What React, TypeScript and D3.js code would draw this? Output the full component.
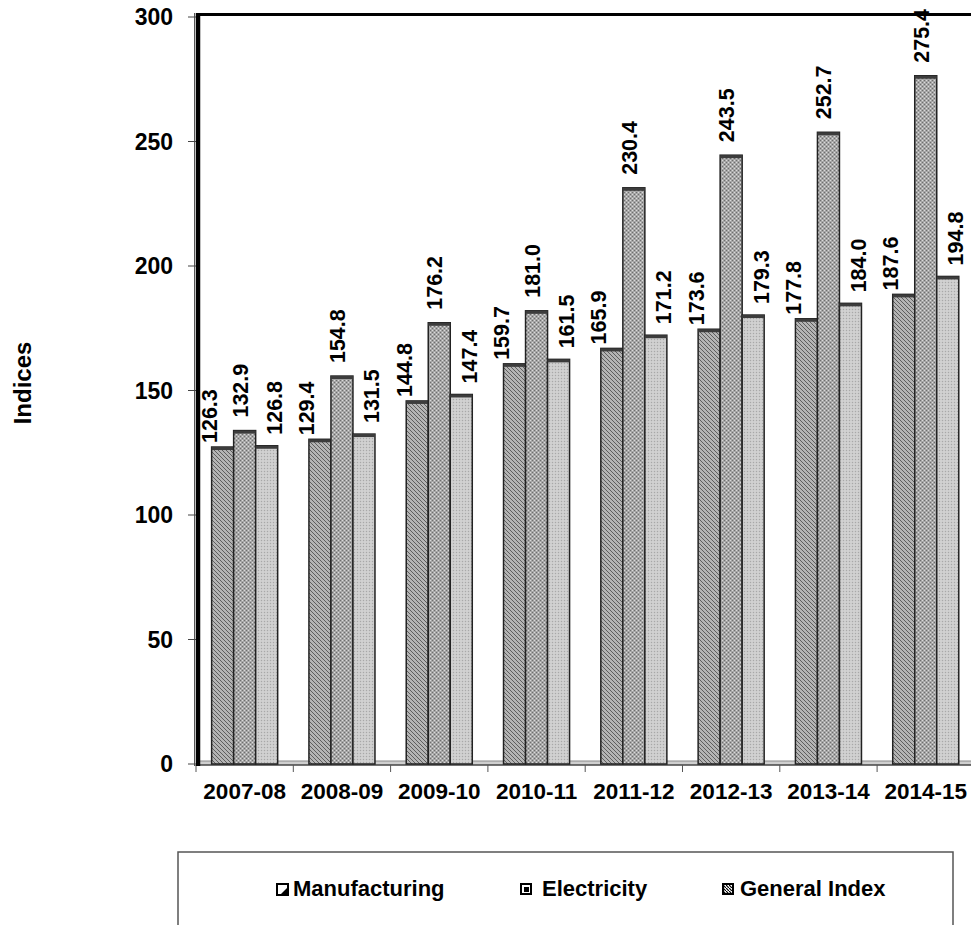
import React from 'react';
import * as d3 from 'd3';

const categories = ['2007-08', '2008-09', '2009-10', '2010-11', '2011-12', '2012-13', '2013-14', '2014-15'];
const seriesNames = ['Manufacturing', 'Electricity', 'General Index'];
const manufacturing = [126.3, 129.4, 144.8, 159.7, 165.9, 173.6, 177.8, 187.6];
const electricity = [132.9, 154.8, 176.2, 181.0, 230.4, 243.5, 252.7, 275.4];
const generalIndex = [126.8, 131.5, 147.4, 161.5, 171.2, 179.3, 184.0, 194.8];
const yTicks = [0, 50, 100, 150, 200, 250, 300];
const yTitle = 'Indices';

const FONT = '"Liberation Sans", Arial, Helvetica, sans-serif';

export default function App() {
  const W = 971;
  const H = 925;
  const plotLeft = 196;
  const bandW = 97.3;
  const base = 764;
  const depth = 2.5;

  const y = d3.scaleLinear().domain([0, 300]).range([base, 17]);
  const x0 = d3.scaleBand<string>().domain(categories).range([plotLeft, plotLeft + bandW * categories.length]).padding(0);
  const x1 = d3.scaleBand<string>().domain(seriesNames).range([0, x0.bandwidth()]).paddingInner(0).paddingOuter(0.71);
  const bw = x1.bandwidth();

  const seriesData = [manufacturing, electricity, generalIndex];
  const fills = ['url(#patManu)', 'url(#patElec)', 'url(#patGen)'];
  // per-series label nudges (dx from bar centre, dy from bar top)
  const labelNudge = [
    { dx: -12.5, dy: -4 },
    { dx: -4, dy: -13 },
    { dx: 8.5, dy: -11 },
  ];

  const legendItems = [
    { name: seriesNames[0], ix: 276, tx: 293 },
    { name: seriesNames[1], ix: 520, tx: 542 },
    { name: seriesNames[2], ix: 722, tx: 740 },
  ];

  return (
    <svg width={W} height={H} style={{ position: 'absolute', left: 0, top: 0, overflow: 'hidden', background: '#fff' }} fontFamily={FONT}>
      <defs>
        <pattern id="patManu" width="4" height="4" patternUnits="userSpaceOnUse">
          <rect width="4" height="4" fill="#b4b4b4" />
          <path d="M-1,-1 L5,5 M-1,3 L1,5 M3,-1 L5,1" stroke="#5e5e5e" strokeWidth="1" />
        </pattern>
        <pattern id="patElec" width="4" height="4" patternUnits="userSpaceOnUse">
          <rect width="4" height="4" fill="#a6a6a6" />
          <rect x="0" y="0" width="1" height="1" fill="#6e6e6e" />
          <rect x="2" y="2" width="1" height="1" fill="#6e6e6e" />
          <rect x="2" y="0" width="1" height="1" fill="#dadada" />
          <rect x="0" y="2" width="1" height="1" fill="#dadada" />
        </pattern>
        <pattern id="patGen" width="3" height="3" patternUnits="userSpaceOnUse">
          <rect width="3" height="3" fill="#cbcbcb" />
          <rect x="0" y="0" width="1" height="1" fill="#a8a8a8" />
          <rect x="1.5" y="1.5" width="1" height="1" fill="#e4e4e4" />
        </pattern>
        <pattern id="legHatch" width="3" height="3" patternUnits="userSpaceOnUse">
          <rect width="3" height="3" fill="#fff" />
          <path d="M-1,-1 L4,4" stroke="#000" strokeWidth="1.2" />
        </pattern>
      </defs>

      {/* floor */}
      <rect x={plotLeft} y={761} width={W - plotLeft} height={4} fill="#cfcfcf" />
      <line x1={plotLeft} x2={W} y1={761} y2={761} stroke="#8a8a8a" strokeWidth={1} />
      <line x1={plotLeft} x2={W} y1={765} y2={765} stroke="#444" strokeWidth={1.5} />

      {/* x ticks */}
      {categories.map((c) => (
        <line key={'xt' + c} x1={x0(c)!} x2={x0(c)!} y1={765} y2={772} stroke="#555" strokeWidth={1} />
      ))}

      {/* bars */}
      {categories.map((c, ci) => (
        <g key={'g' + c}>
          {seriesNames.map((s, si) => {
            const v = seriesData[si][ci];
            const top = y(v) - depth;
            const bx = x0(c)! + x1(s)!;
            return (
              <g key={s}>
                <rect x={bx} y={top} width={bw} height={base - top} fill={fills[si]} stroke="#222" strokeWidth={1.5} />
                <rect x={bx} y={top} width={bw} height={3} fill="#3c3c3c" />
              </g>
            );
          })}
        </g>
      ))}

      {/* data labels */}
      {categories.map((c, ci) =>
        seriesNames.map((s, si) => {
          const v = seriesData[si][ci];
          const top = y(v) - depth;
          const cx = x0(c)! + x1(s)! + bw / 2 + labelNudge[si].dx;
          const ly = top + labelNudge[si].dy;
          return (
            <text
              key={'l' + c + s}
              transform={`translate(${cx},${ly}) rotate(-90)`}
              textAnchor="start"
              dominantBaseline="central"
              fontSize={21.5}
              fontWeight="bold"
              fill="#000"
            >
              {v.toFixed(1)}
            </text>
          );
        })
      )}

      {/* plot border: top + left wall */}
      <line x1={plotLeft} x2={W} y1={14.5} y2={14.5} stroke="#000" strokeWidth={3} />
      <line x1={194.5} x2={194.5} y1={13} y2={766} stroke="#555" strokeWidth={1} />
      <line x1={198} x2={198} y1={13} y2={766} stroke="#000" strokeWidth={4.5} />

      {/* y axis ticks and labels */}
      {yTicks.map((t) => (
        <g key={'yt' + t}>
          <line x1={188} x2={196} y1={y(t)} y2={y(t)} stroke="#444" strokeWidth={1} />
          <text x={173} y={y(t)} textAnchor="end" dominantBaseline="central" fontSize={23} fontWeight="bold">
            {t}
          </text>
        </g>
      ))}

      {/* y title */}
      <text transform="translate(22,383) rotate(-90)" textAnchor="middle" dominantBaseline="central" fontSize={24} fontWeight="bold">
        {yTitle}
      </text>

      {/* x labels */}
      {categories.map((c) => (
        <text key={'xl' + c} x={x0(c)! + x0.bandwidth() / 2} y={799} textAnchor="middle" fontSize={22.5} fontWeight="bold">
          {c}
        </text>
      ))}

      {/* legend */}
      <rect x={178} y={852} width={775} height={120} fill="none" stroke="#555" strokeWidth={1.5} />
      {legendItems.map((it, i) => (
        <g key={'lg' + it.name}>
          {i === 0 && (
            <g>
              <rect x={it.ix + 1} y={884} width={11} height={11} fill="#fff" stroke="#000" strokeWidth={2} />
              <path d={`M${it.ix + 12},${887} L${it.ix + 12},${895} L${it.ix + 4},${895} Z`} fill="#000" />
            </g>
          )}
          {i === 1 && (
            <g>
              <rect x={it.ix + 1} y={884} width={10} height={10} fill="#fff" stroke="#000" strokeWidth={2} />
              <rect x={it.ix + 4} y={887} width={5} height={5} fill="#000" />
            </g>
          )}
          {i === 2 && (
            <rect x={it.ix + 1} y={884} width={10} height={10} fill="url(#legHatch)" stroke="#000" strokeWidth={2} />
          )}
          <text x={it.tx} y={896} fontSize={22} fontWeight="bold">
            {it.name}
          </text>
        </g>
      ))}
    </svg>
  );
}
